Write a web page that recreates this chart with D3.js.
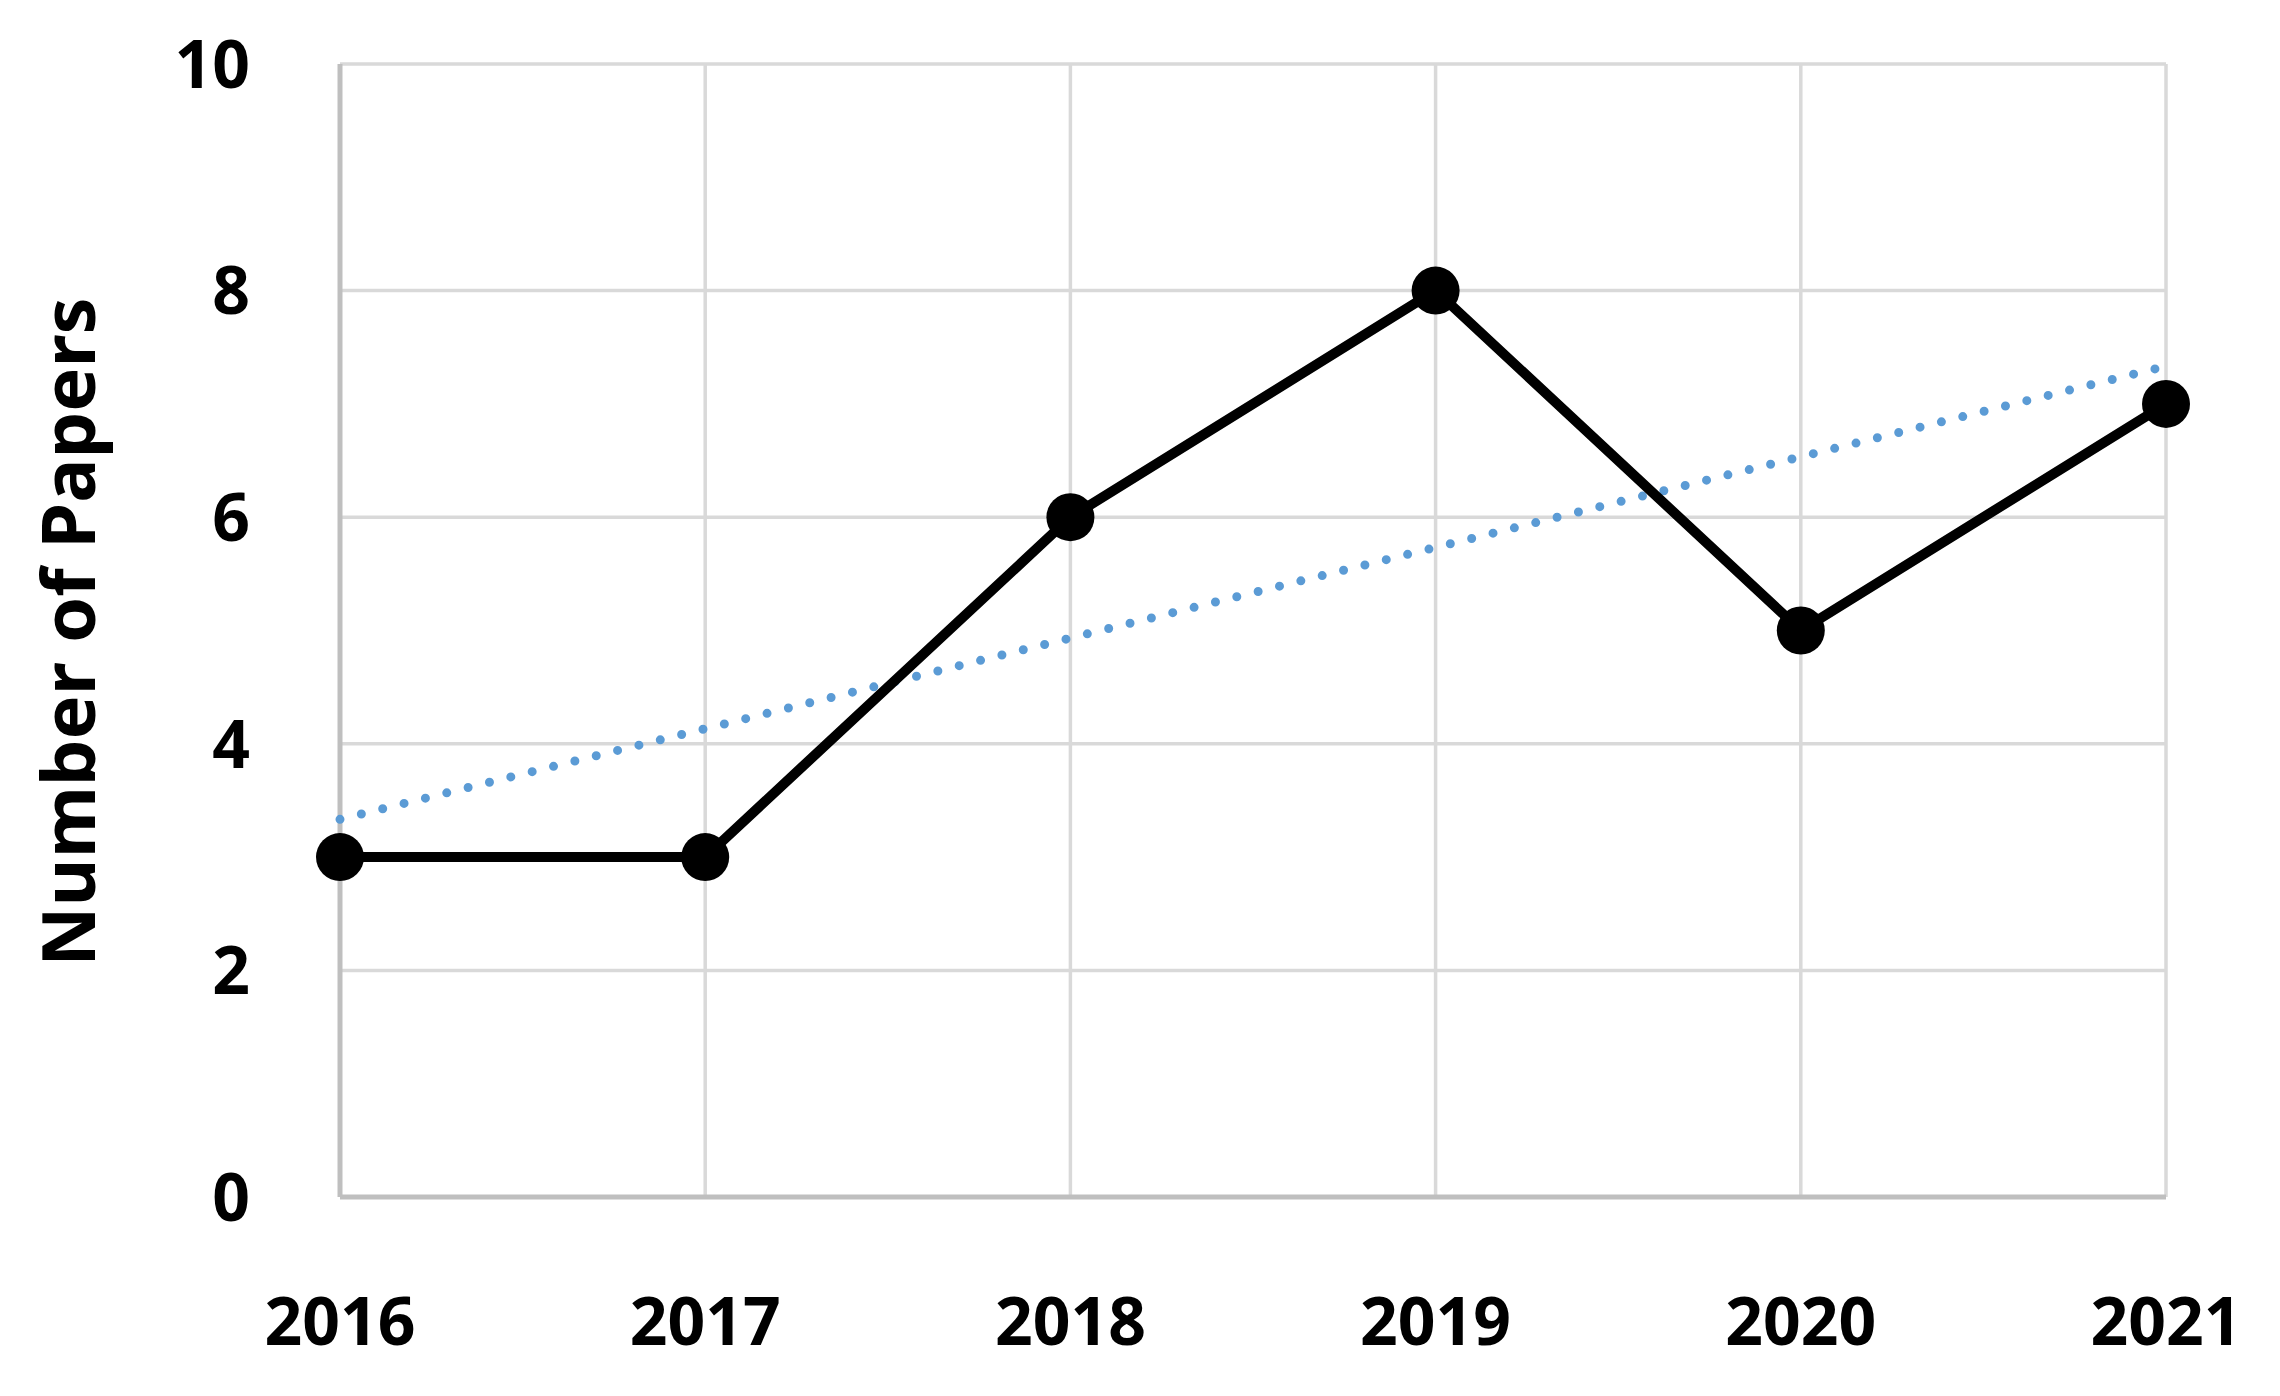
<!DOCTYPE html>
<html><head><meta charset="utf-8">
<script src="https://cdn.jsdelivr.net/npm/d3@7"></script>
<style>body{margin:0;background:#fff}</style></head>
<body><svg id="c" width="2280" height="1396"></svg>
<script>
const years = ["2016","2017","2018","2019","2020","2021"];
const papers = [3,3,6,8,5,7];
const yTicks = [0,2,4,6,8,10];

const svg = d3.select("#c");
const L=340,R=2166,T=64,B=1197;
const x = d3.scalePoint().domain(years).range([L,R]);
const y = d3.scaleLinear().domain([0,10]).range([B,T]);
const font = "'Noto Sans', 'Open Sans', sans-serif";

// grid
svg.append("g").selectAll("line").data(yTicks.filter(d=>d>0)).join("line")
  .attr("x1",L).attr("x2",R).attr("y1",d=>y(d)).attr("y2",d=>y(d))
  .attr("stroke","#d9d9d9").attr("stroke-width",3.5);
svg.append("g").selectAll("line").data(years.slice(1)).join("line")
  .attr("x1",d=>x(d)).attr("x2",d=>x(d)).attr("y1",T).attr("y2",B)
  .attr("stroke","#d9d9d9").attr("stroke-width",3.5);
// axes
svg.append("line").attr("x1",L).attr("x2",L).attr("y1",T).attr("y2",B).attr("stroke","#bfbfbf").attr("stroke-width",5);
svg.append("line").attr("x1",L).attr("x2",R).attr("y1",B).attr("y2",B).attr("stroke","#bfbfbf").attr("stroke-width",5);

// tick labels
svg.append("g").selectAll("text").data(yTicks).join("text")
  .attr("x",250).attr("y",d=>y(d)).attr("dy","0.36em").attr("text-anchor","end")
  .attr("font-family",font).attr("font-weight","bold").attr("font-size",66).text(d=>d);
svg.append("g").selectAll("text").data(years).join("text")
  .attr("x",d=>x(d)).attr("y",1345).attr("text-anchor","middle")
  .attr("font-family",font).attr("font-weight","bold").attr("font-size",66).text(d=>d);
svg.append("text").attr("transform","translate(95,632) rotate(-90)").attr("text-anchor","middle")
  .attr("font-family",font).attr("font-weight","bold").attr("font-size",74).text("Number of Papers");

// trendline (least squares from data)
const n=papers.length, idx=d3.range(n);
const mx=d3.mean(idx), my=d3.mean(papers);
const slope=d3.sum(idx,i=>(i-mx)*(papers[i]-my))/d3.sum(idx,i=>(i-mx)**2);
const icpt=my-slope*mx;
svg.append("line").attr("x1",x(years[0])).attr("y1",y(icpt))
  .attr("x2",x(years[n-1])).attr("y2",y(icpt+slope*(n-1)))
  .attr("stroke","#5b9bd5").attr("stroke-width",9).attr("stroke-linecap","round")
  .attr("stroke-dasharray","0 22");

// line
svg.append("path").datum(papers)
  .attr("d",d3.line().x((d,i)=>x(years[i])).y(d=>y(d)))
  .attr("fill","none").attr("stroke","#000").attr("stroke-width",10).attr("stroke-linejoin","round");
svg.append("g").selectAll("circle").data(papers).join("circle")
  .attr("cx",(d,i)=>x(years[i])).attr("cy",d=>y(d)).attr("r",24).attr("fill","#000");
</script></body></html>
